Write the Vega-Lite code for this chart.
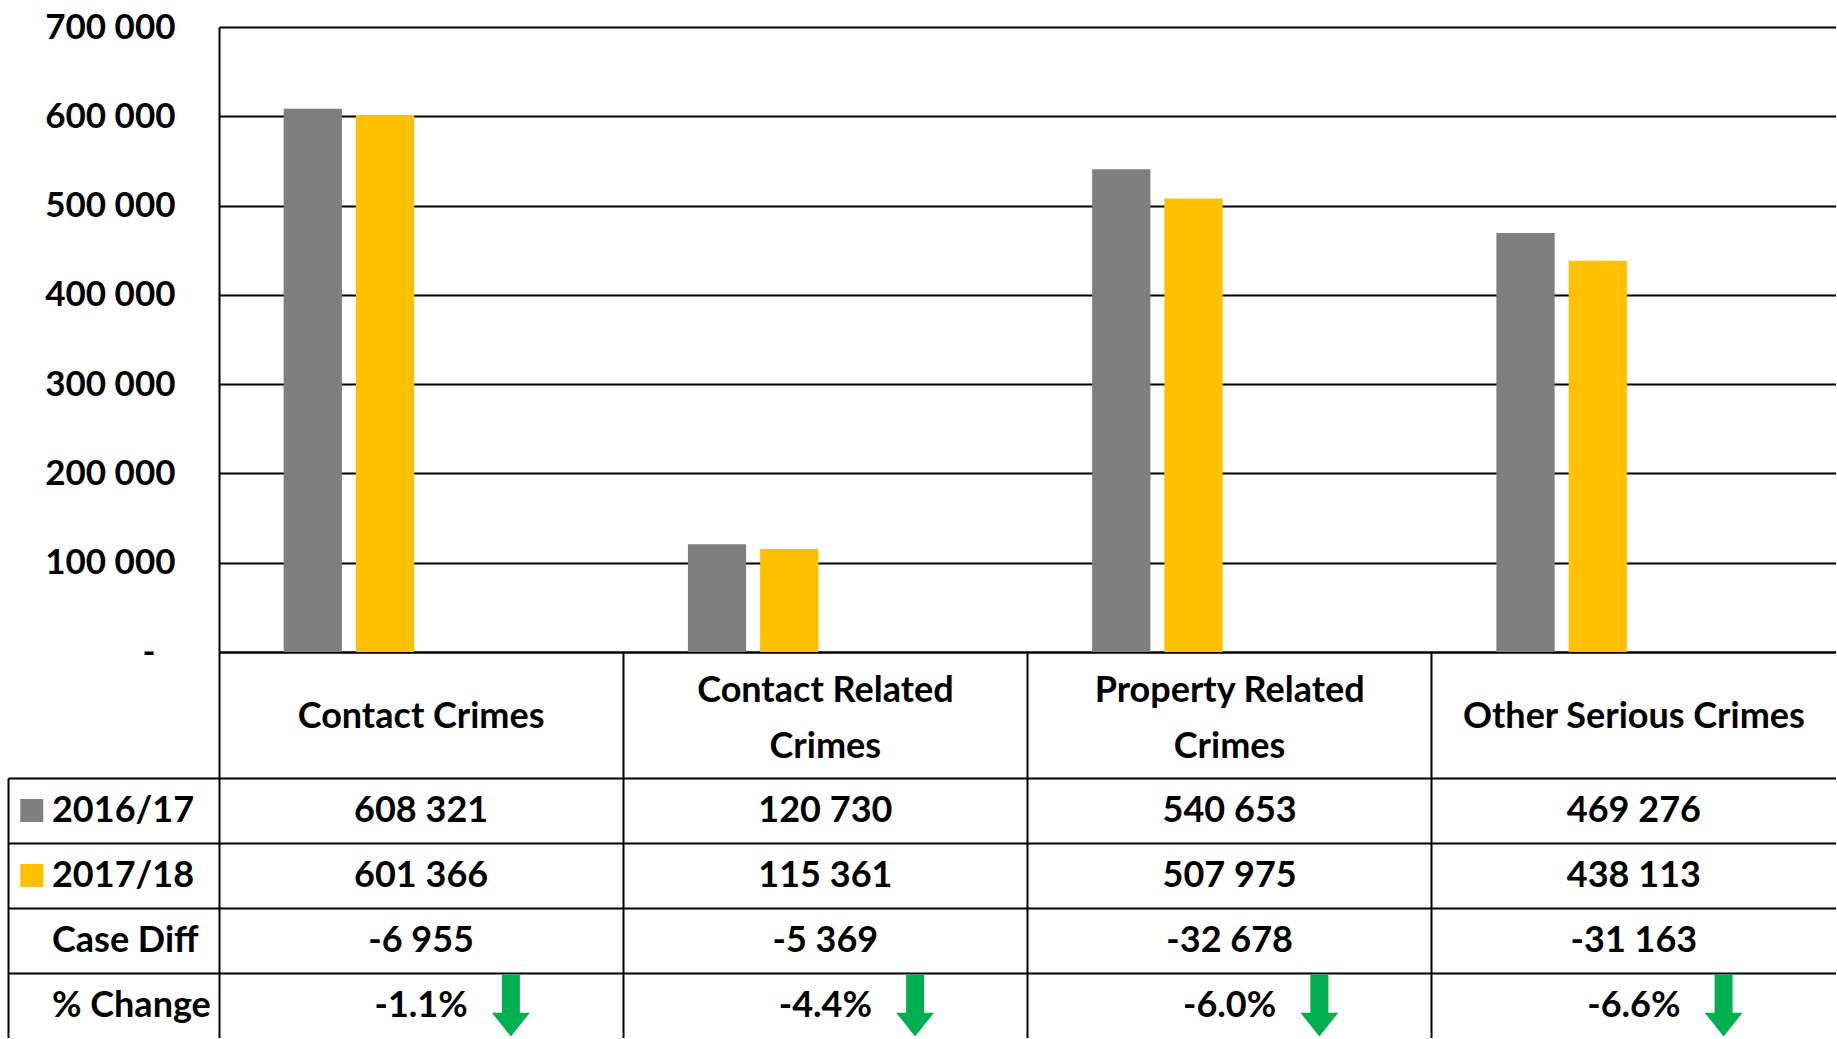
{
  "$schema": "https://vega.github.io/schema/vega-lite/v6.json",
  "background": "white",
  "padding": {"left": 8, "top": 10, "right": 0, "bottom": 0},
  "config": {
    "view": {"stroke": null},
    "locale": {"number": {"decimal": ".", "thousands": " ", "grouping": [3], "currency": ["", ""], "minus": "-"}},
    "font": "Lato",
    "text": {"font": "Lato", "fontWeight": "bold", "fontSize": 36, "color": "black"}
  },
  "columns": 2,
  "spacing": 0,
  "bounds": "flush",
  "concat": [
    {
      "width": 211, "height": 625,
      "data": {"values": []},
      "mark": {"type": "point", "opacity": 0}
    },
    {
      "width": 1617, "height": 625,
      "data": {"values": [
        {"category": "Contact Crimes", "series": "2016/17", "value": 608321},
        {"category": "Contact Crimes", "series": "2017/18", "value": 601366},
        {"category": "Contact Related Crimes", "series": "2016/17", "value": 120730},
        {"category": "Contact Related Crimes", "series": "2017/18", "value": 115361},
        {"category": "Property Related Crimes", "series": "2016/17", "value": 540653},
        {"category": "Property Related Crimes", "series": "2017/18", "value": 507975},
        {"category": "Other Serious Crimes", "series": "2016/17", "value": 469276},
        {"category": "Other Serious Crimes", "series": "2017/18", "value": 438113}
      ]},
      "mark": {"type": "bar"},
      "encoding": {
        "x": {"field": "category", "type": "nominal",
          "sort": ["Contact Crimes", "Contact Related Crimes", "Property Related Crimes", "Other Serious Crimes"],
          "scale": {"type": "band", "paddingInner": 0, "paddingOuter": 0},
          "axis": {"title": null, "labels": false, "ticks": false, "domain": true, "domainColor": "black", "domainWidth": 2, "grid": false}},
        "xOffset": {"field": "series", "type": "nominal",
          "scale": {"type": "band", "domain": ["2016/17", "2017/18", "Case Diff", "% Change"], "paddingInner": 0.1935, "paddingOuter": 0.895}},
        "y": {"field": "value", "type": "quantitative",
          "scale": {"domain": [0, 700000], "nice": false},
          "axis": {"title": null, "values": [0, 100000, 200000, 300000, 400000, 500000, 600000, 700000],
            "format": ",d",
            "labelExpr": "datum.value == 0 ? '-' : datum.label",
            "grid": true, "gridColor": "black", "gridWidth": 2,
            "domain": true, "domainColor": "black", "domainWidth": 2,
            "ticks": false, "tickSize": 0,
            "labelFont": "Lato", "labelFontWeight": "bold", "labelFontSize": 35, "labelColor": "black",
            "labelPadding": {"condition": {"test": "datum.value == 0", "value": 64}, "value": 44}}},
        "color": {"field": "series", "type": "nominal",
          "scale": {"domain": ["2016/17", "2017/18"], "range": ["#7F7F7F", "#FFC000"]}, "legend": null}
      }
    },
    {
      "width": 211, "height": 126,
      "data": {"values": []},
      "mark": {"type": "point", "opacity": 0}
    },
    {
      "width": 1617, "height": 126,
      "data": {"values": [
        {"category": "Contact Crimes", "header": "Contact Crimes"},
        {"category": "Contact Related Crimes", "header": "Contact Related\nCrimes"},
        {"category": "Property Related Crimes", "header": "Property Related\nCrimes"},
        {"category": "Other Serious Crimes", "header": "Other Serious Crimes"}
      ]},
      "encoding": {
        "x": {"field": "category", "type": "nominal",
          "sort": ["Contact Crimes", "Contact Related Crimes", "Property Related Crimes", "Other Serious Crimes"],
          "scale": {"type": "band", "paddingInner": 0, "paddingOuter": 0},
          "axis": {"title": null, "orient": "top", "labels": false, "ticks": false, "domain": false, "grid": true, "gridColor": "black", "gridWidth": 2, "bandPosition": 0}},
        "text": {"field": "header"}
      },
      "layer": [
        {
          "transform": [{"filter": "indexof(datum.header, '\\n') < 0"}],
          "mark": {"type": "text", "align": "center", "baseline": "middle", "dy": 2}
        },
        {
          "transform": [{"filter": "indexof(datum.header, '\\n') >= 0"}],
          "mark": {"type": "text", "lineBreak": "\n", "lineHeight": 56, "align": "center", "baseline": "middle", "dy": -24}
        }
      ]
    },
    {
      "width": 211, "height": 260,
      "data": {"values": [
        {"row": "2016/17", "series": "2016/17"},
        {"row": "2017/18", "series": "2017/18"},
        {"row": "Case Diff"},
        {"row": "% Change"}
      ]},
      "encoding": {
        "y": {"field": "row", "type": "nominal",
          "scale": {"type": "band", "domain": ["2016/17", "2017/18", "Case Diff", "% Change"], "paddingInner": 0, "paddingOuter": 0},
          "axis": {"title": null, "orient": "left", "labels": false, "ticks": false, "domain": true, "domainColor": "black", "domainWidth": 2, "grid": true, "gridColor": "black", "gridWidth": 2, "bandPosition": 0}}
      },
      "layer": [
        {
          "transform": [{"filter": "isValid(datum.series)"}],
          "mark": {"type": "square", "size": 529, "filled": true, "opacity": 1},
          "encoding": {
            "x": {"datum": "swatch", "type": "nominal", "bandPosition": 0.54,
              "scale": {"type": "band", "domain": ["swatch", "name", "blank"], "paddingInner": 0, "paddingOuter": 0.898, "align": 0}, "axis": null},
            "color": {"field": "series", "type": "nominal",
              "scale": {"domain": ["2016/17", "2017/18"], "range": ["#7F7F7F", "#FFC000"]}, "legend": null}
          }
        },
        {
          "mark": {"type": "text", "align": "left", "baseline": "middle"},
          "encoding": {
            "x": {"datum": "name", "type": "nominal", "bandPosition": 0,
              "scale": {"type": "band", "domain": ["swatch", "name", "blank"], "paddingInner": 0, "paddingOuter": 0.898, "align": 0}, "axis": null},
            "text": {"field": "row"}
          }
        }
      ]
    },
    {
      "width": 1617, "height": 260,
      "data": {"values": [
        {"category": "Contact Crimes", "row": "2016/17", "value": 608321},
        {"category": "Contact Crimes", "row": "2017/18", "value": 601366},
        {"category": "Contact Crimes", "row": "Case Diff", "value": -6955},
        {"category": "Contact Crimes", "row": "% Change", "value": -0.011},
        {"category": "Contact Related Crimes", "row": "2016/17", "value": 120730},
        {"category": "Contact Related Crimes", "row": "2017/18", "value": 115361},
        {"category": "Contact Related Crimes", "row": "Case Diff", "value": -5369},
        {"category": "Contact Related Crimes", "row": "% Change", "value": -0.044},
        {"category": "Property Related Crimes", "row": "2016/17", "value": 540653},
        {"category": "Property Related Crimes", "row": "2017/18", "value": 507975},
        {"category": "Property Related Crimes", "row": "Case Diff", "value": -32678},
        {"category": "Property Related Crimes", "row": "% Change", "value": -0.060},
        {"category": "Other Serious Crimes", "row": "2016/17", "value": 469276},
        {"category": "Other Serious Crimes", "row": "2017/18", "value": 438113},
        {"category": "Other Serious Crimes", "row": "Case Diff", "value": -31163},
        {"category": "Other Serious Crimes", "row": "% Change", "value": -0.066}
      ]},
      "encoding": {
        "x": {"field": "category", "type": "nominal",
          "sort": ["Contact Crimes", "Contact Related Crimes", "Property Related Crimes", "Other Serious Crimes"],
          "scale": {"type": "band", "paddingInner": 0, "paddingOuter": 0},
          "axis": {"title": null, "orient": "top", "labels": false, "ticks": false, "domain": false, "grid": true, "gridColor": "black", "gridWidth": 2, "bandPosition": 0}},
        "y": {"field": "row", "type": "nominal",
          "scale": {"type": "band", "domain": ["2016/17", "2017/18", "Case Diff", "% Change"], "paddingInner": 0, "paddingOuter": 0},
          "axis": {"title": null, "labels": false, "ticks": false, "domain": false, "grid": true, "gridColor": "black", "gridWidth": 2, "bandPosition": 0}}
      },
      "layer": [
        {
          "transform": [{"filter": "datum.row != '% Change'"}],
          "mark": {"type": "text", "align": "center", "baseline": "middle"},
          "encoding": {"text": {"field": "value", "type": "quantitative", "format": ",d"}}
        },
        {
          "transform": [{"filter": "datum.row == '% Change'"}],
          "mark": {"type": "text", "align": "center", "baseline": "middle"},
          "encoding": {"text": {"field": "value", "type": "quantitative", "format": ".1%"}}
        },
        {
          "transform": [{"filter": "datum.row == '% Change' && datum.value < 0"}],
          "mark": {"type": "point", "shape": "M-0.29,-1L0.29,-1L0.29,0.23L0.613,0.23L0,1L-0.613,0.23L-0.29,0.23Z", "size": 3844, "filled": true, "color": "#00B050", "opacity": 1, "strokeWidth": 0},
          "encoding": {
            "x": {"field": "category", "type": "nominal", "bandPosition": 0.722,
              "sort": ["Contact Crimes", "Contact Related Crimes", "Property Related Crimes", "Other Serious Crimes"],
              "scale": {"type": "band", "paddingInner": 0, "paddingOuter": 0},
              "axis": {"title": null, "orient": "top", "labels": false, "ticks": false, "domain": false, "grid": true, "gridColor": "black", "gridWidth": 2, "bandPosition": 0}}
          }
        }
      ]
    }
  ]
}
